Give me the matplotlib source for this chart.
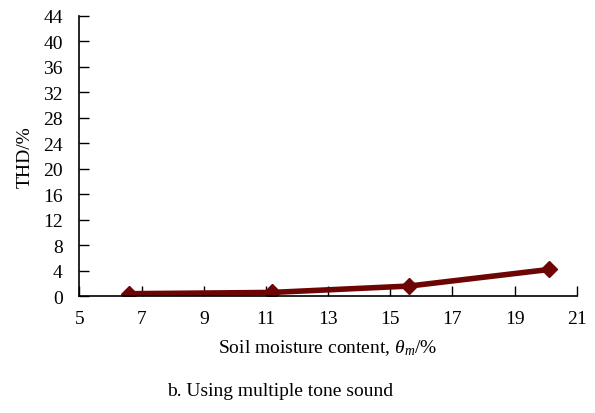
import matplotlib
matplotlib.use("Agg")
import matplotlib.pyplot as plt

moisture = [6.6, 11.2, 15.6, 20.1]
thd = [0.4, 0.6, 1.6, 4.2]
xticks = [5, 7, 9, 11, 13, 15, 17, 19, 21]
yticks = [0, 4, 8, 12, 16, 20, 24, 28, 32, 36, 40, 44]

plt.rcParams['font.family'] = ['Liberation Serif', 'DejaVu Serif']
plt.rcParams['mathtext.fontset'] = 'custom'
plt.rcParams['mathtext.it'] = 'Liberation Serif:italic'
plt.rcParams['mathtext.rm'] = 'Liberation Serif'

fig = plt.figure(figsize=(5.95, 4.14), dpi=100)
ax = fig.add_axes([0.1335, 0.282, 0.836, 0.677])
ax.plot(moisture, thd, color='#6e0505', lw=4, marker='D', ms=8.5,
        markerfacecolor='#6e0505', markeredgecolor='#6e0505')
ax.set_xlim(5, 21)
ax.set_ylim(0, 44)
ax.set_xticks(xticks)
ax.set_yticks(yticks)
ax.tick_params(direction='in', length=7, width=1, labelsize=14, pad=12)
ax.tick_params(axis='x', pad=10)
for s in ['top', 'right']:
    ax.spines[s].set_visible(False)
for s in ['left', 'bottom']:
    ax.spines[s].set_linewidth(1.2)
ax.set_ylabel('THD/%', fontsize=14, labelpad=7)
fig.text(0.551, 0.16, r'Soil moisture content, $\theta_m$/%', fontsize=14, ha='center', va='center')
fig.text(0.47, 0.054, 'b. Using multiple tone sound', fontsize=14, ha='center', va='center')
fig.savefig('out.png', dpi=100)
